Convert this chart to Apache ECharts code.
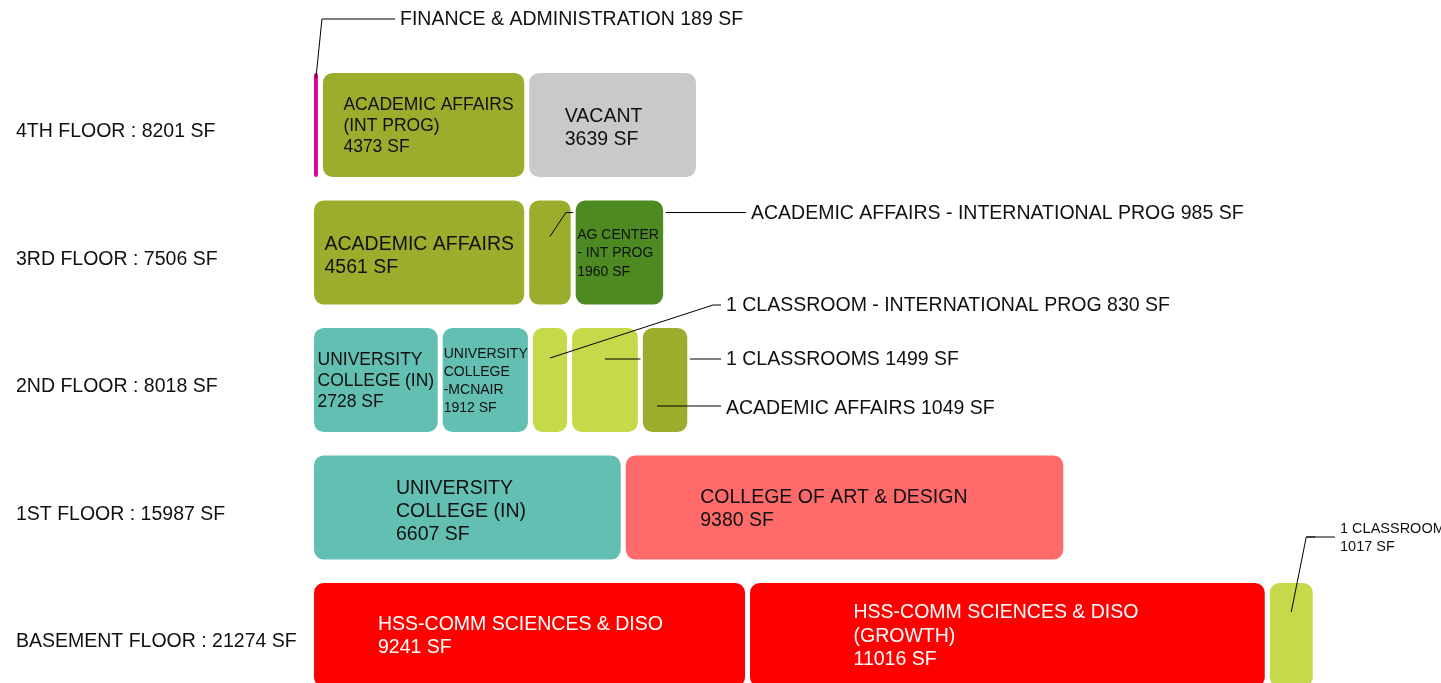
<!DOCTYPE html>
<html>
<head>
<meta charset="utf-8">
<script src="https://cdn.jsdelivr.net/npm/echarts@6/dist/echarts.min.js"></script>
<style>
  html, body { margin: 0; padding: 0; background: #fff; }
  #chart { width: 1441px; height: 683px; }
</style>
</head>
<body>
<div id="chart"></div>
<script>
// floors, top to bottom
var floors = ['4TH FLOOR', '3RD FLOOR', '2ND FLOOR', '1ST FLOOR', 'BASEMENT FLOOR'];
var floorTotals = [8201, 7506, 8018, 15987, 21274];

// spaces on each floor, left to right
var spaceNames = [
  ['FINANCE & ADMINISTRATION', 'ACADEMIC AFFAIRS\n(INT PROG)', 'VACANT'],
  ['ACADEMIC AFFAIRS', 'ACADEMIC AFFAIRS - INTERNATIONAL PROG', 'AG CENTER\n- INT PROG'],
  ['UNIVERSITY\nCOLLEGE (IN)', 'UNIVERSITY\nCOLLEGE\n-MCNAIR', '1 CLASSROOM - INTERNATIONAL PROG', '1 CLASSROOMS', 'ACADEMIC AFFAIRS'],
  ['UNIVERSITY\nCOLLEGE (IN)', 'COLLEGE OF ART & DESIGN'],
  ['HSS-COMM SCIENCES & DISO', 'HSS-COMM SCIENCES & DISO\n(GROWTH)', '1 CLASSROOM\n']
];
var spaceValues = [
  [189, 4373, 3639],
  [4561, 985, 1960],
  [2728, 1912, 830, 1499, 1049],
  [6607, 9380],
  [9241, 11016, 1017]
];
var spaceGroups = [
  ['finance', 'academic', 'vacant'],
  ['academic', 'academic', 'agcenter'],
  ['university', 'university', 'classroom', 'classroom', 'academic'],
  ['university', 'art'],
  ['hss', 'hss', 'classroom']
];

var groupColors = {
  finance: '#e0009c',
  academic: '#9cad2d',
  vacant: '#c8c9cb',
  agcenter: '#4e8a22',
  university: '#62bfb2',
  classroom: '#c6d94a',
  art: '#ff6b6b',
  hss: '#ff0000'
};

var FONT = '"Liberation Sans", Arial, sans-serif';

// labels drawn inside the boxes: key is floor-slot
var insideStyle = {
  '0-1': { distance: 23, dy: 1.5, fontSize: 17.5, lineHeight: 21 },
  '0-2': { distance: 38, dy: 3.5, fontSize: 19.5, lineHeight: 23 },
  '1-0': { distance: 13, dy: 4, fontSize: 19.5, lineHeight: 23 },
  '1-2': { distance: 4, dy: 1, fontSize: 14, lineHeight: 18.5 },
  '2-0': { distance: 6, dy: 1.5, fontSize: 17.5, lineHeight: 21 },
  '2-1': { distance: 3.5, dy: 1, fontSize: 14, lineHeight: 18 },
  '3-0': { distance: 84.5, dy: 4, fontSize: 19.5, lineHeight: 23 },
  '3-1': { distance: 77, dy: 2, fontSize: 19.5, lineHeight: 23 },
  '4-0': { distance: 66.5, dy: 1, fontSize: 19.5, lineHeight: 23, color: '#fff' },
  '4-1': { distance: 106, dy: 1.5, fontSize: 19.5, lineHeight: 23.5, color: '#fff' }
};

// labels drawn outside with leader lines
var callouts = [
  { f: 0, s: 0, sx: 0, sy: -47, ex: 6, ey: -59, tx: 400, size: 19.5 },
  { f: 1, s: 1, sx: 0, sy: -16, ex: 16, ey: -24, tx: 751, size: 19.5 },
  { f: 2, s: 2, sx: 0, sy: -22, ex: 163, ey: -53, tx: 726, size: 19.5 },
  { f: 2, s: 3, sx: 0, sy: -21, ex: 0, ey: 0, tx: 726, size: 19.5 },
  { f: 2, s: 4, sx: -8, sy: 26, ex: 0, ey: 0, tx: 726, size: 19.5, dy: 2 },
  { f: 4, s: 2, sx: 0, sy: -23, ex: 15, ey: -75, tx: 1340, size: 14.5, lh: 18 }
];

function isCallout(f, s) {
  return callouts.some(function (c) { return c.f === f && c.s === s; });
}

var maxSlots = Math.max.apply(null, spaceValues.map(function (r) { return r.length; }));
var series = [];
for (var s = 0; s < maxSlots; s++) {
  var data = floors.map(function (fl, f) {
    if (s >= spaceValues[f].length) return '-';
    var st = insideStyle[f + '-' + s];
    var item = {
      value: spaceValues[f][s],
      itemStyle: { color: groupColors[spaceGroups[f][s]] }
    };
    if (st && !isCallout(f, s)) {
      item.label = {
        show: true,
        position: 'insideLeft',
        distance: st.distance,
        offset: [0, st.dy],
        fontSize: st.fontSize,
        lineHeight: st.lineHeight,
        color: st.color || '#111',
        fontFamily: FONT,
        overflow: 'none',
        formatter: spaceNames[f][s] + '\n' + spaceValues[f][s] + ' SF'
      };
    } else {
      item.label = { show: false };
    }
    return item;
  });
  series.push({
    type: 'bar',
    stack: 'floor',
    barWidth: 109,
    data: data,
    itemStyle: { borderRadius: 11, borderColor: '#fff', borderWidth: 2.5 },
    emphasis: { disabled: true },
    animation: false
  });
}

var chart = echarts.init(document.getElementById('chart'));
chart.setOption({
  animation: false,
  grid: { left: 311.5, top: 61.25, width: 1038, height: 637.5, outerBoundsMode: 'none' },
  xAxis: { type: 'value', min: 0, max: 22000, show: false },
  yAxis: {
    type: 'category',
    inverse: true,
    data: floors.map(function (f, i) { return f + ' : ' + floorTotals[i] + ' SF'; }),
    axisLine: { show: false },
    axisTick: { show: false },
    splitLine: { show: false },
    axisLabel: {
      align: 'left',
      verticalAlign: 'top',
      lineHeight: 14,
      margin: 295.5,
      fontSize: 19.5,
      color: '#111',
      fontFamily: FONT
    }
  },
  series: series
});

// leader lines and callout texts, positioned from the axes
function px(v, f) {
  return chart.convertToPixel({ xAxisIndex: 0, yAxisIndex: 0 }, [v, f]);
}
var graphics = [];
callouts.forEach(function (c) {
  var before = 0;
  for (var i = 0; i < c.s; i++) before += spaceValues[c.f][i];
  var val = spaceValues[c.f][c.s];
  var mid = px(before + val / 2, c.f);
  var right = px(before + val, c.f)[0];
  var start = [mid[0] + c.sx, mid[1] + c.sy];
  var elbow = [start[0] + c.ex, start[1] + c.ey];
  var lineEnd = c.tx - 5;
  var topEnd = Math.min(lineEnd, Math.max(elbow[0], right));
  graphics.push({
    type: 'polyline', z: 100,
    shape: { points: [start, elbow, [topEnd, elbow[1]]] },
    style: { stroke: '#000', lineWidth: 1, fill: null }
  });
  graphics.push({
    type: 'line', z: 0, zlevel: 0,
    shape: { x1: elbow[0], y1: elbow[1], x2: lineEnd, y2: elbow[1] },
    style: { stroke: '#000', lineWidth: 1 }
  });
  graphics.push({
    type: 'text', z: 100,
    x: c.tx, y: elbow[1] + 1 + (c.dy || 0),
    style: {
      text: spaceNames[c.f][c.s].replace(/\n$/, '') + (c.lh ? '\n' : ' ') + val + ' SF',
      fontSize: c.size,
      lineHeight: c.lh || c.size * 1.2,
      fontFamily: FONT,
      fill: '#111',
      align: 'left',
      verticalAlign: 'middle'
    }
  });
});
chart.setOption({ graphic: { elements: graphics } });
</script>
</body>
</html>
